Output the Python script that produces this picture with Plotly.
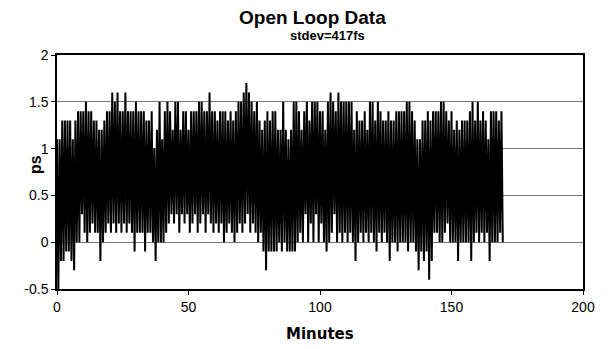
import plotly.graph_objects as go

# Upper and lower envelope of the trace, one value per minute (0..169), in ps
upper = [1.1, 1.1, 1.3, 1.3, 1.3, 1.3, 1.1, 1.3, 1.4, 1.4,
         1.4, 1.5, 1.4, 1.4, 1.3, 1.3, 1.2, 1.2, 1.3, 1.4,
         1.4, 1.6, 1.5, 1.6, 1.4, 1.4, 1.6, 1.4, 1.4, 1.4,
         1.5, 1.4, 1.4, 1.4, 1.3, 1.3, 1.4, 1.0, 1.2, 1.5,
         1.1, 1.4, 1.5, 1.4, 1.2, 1.5, 1.5, 1.2, 1.4, 1.4,
         1.2, 1.4, 1.4, 1.4, 1.5, 1.5, 1.4, 1.4, 1.6, 1.4,
         1.4, 1.3, 1.4, 1.4, 1.4, 1.3, 1.4, 1.3, 1.4, 1.5,
         1.5, 1.6, 1.7, 1.6, 1.5, 1.4, 1.5, 1.3, 1.2, 1.3,
         1.4, 1.3, 1.4, 1.4, 1.2, 1.2, 1.5, 1.2, 1.1, 1.2,
         1.5, 1.5, 1.4, 1.2, 1.4, 1.5, 1.3, 1.5, 1.5, 1.5,
         1.4, 1.4, 1.2, 1.5, 1.6, 1.5, 1.4, 1.6, 1.5, 1.5,
         1.5, 1.5, 1.5, 1.2, 1.4, 1.3, 1.3, 1.4, 1.2, 1.5,
         1.5, 1.3, 1.5, 1.4, 1.3, 1.3, 1.4, 1.3, 1.3, 1.4,
         1.4, 1.4, 1.4, 1.5, 1.5, 1.4, 1.3, 1.1, 1.1, 1.3,
         1.3, 1.4, 1.3, 1.4, 1.4, 1.4, 1.5, 1.5, 1.4, 1.3,
         1.4, 1.2, 1.3, 1.2, 1.3, 1.3, 1.3, 1.4, 1.5, 1.3,
         1.5, 1.3, 1.4, 1.3, 1.1, 1.4, 1.4, 1.4, 1.3, 1.4]

lower = [-0.5, -0.2, -0.2, -0.1, -0.1, -0.2, -0.3, 0.0, 0.0, 0.3,
         0.1, 0.0, 0.1, 0.2, 0.1, 0.1, -0.2, 0.0, 0.1, 0.2,
         0.1, 0.2, 0.1, 0.2, 0.1, 0.2, 0.1, 0.2, 0.1, -0.1,
         0.1, 0.1, 0.1, -0.1, 0.1, 0.1, 0.0, -0.2, 0.0, 0.0,
         0.0, 0.1, 0.2, 0.3, 0.2, 0.3, 0.1, 0.3, 0.2, 0.3,
         0.1, 0.2, 0.3, 0.1, 0.2, 0.3, 0.1, 0.3, 0.2, 0.1,
         0.2, 0.1, 0.2, 0.0, 0.1, 0.2, 0.1, 0.0, 0.1, 0.2,
         0.1, 0.2, 0.3, 0.1, 0.2, 0.1, 0.0, 0.1, -0.1, -0.3,
         -0.1, -0.1, -0.1, -0.1, 0.0, -0.1, 0.0, -0.1, -0.1, -0.1,
         -0.1, 0.0, 0.1, 0.0, 0.3, 0.0, 0.2, 0.0, 0.3, 0.0,
         0.2, 0.0, -0.1, 0.0, 0.1, 0.3, 0.0, 0.1, 0.0, 0.1,
         0.0, 0.1, 0.0, -0.2, 0.0, 0.1, 0.0, 0.1, 0.0, 0.1,
         0.0, -0.1, 0.1, 0.0, 0.1, 0.0, -0.2, 0.0, 0.0, -0.1,
         0.0, 0.0, 0.0, -0.1, 0.0, 0.0, -0.1, -0.3, -0.1, -0.2,
         -0.1, -0.4, -0.2, 0.1, 0.1, 0.0, 0.0, 0.1, 0.2, 0.0,
         0.0, 0.0, -0.2, 0.0, 0.0, 0.0, 0.0, -0.2, 0.0, 0.1,
         0.0, 0.1, 0.0, 0.1, -0.2, 0.0, 0.0, 0.0, 0.1, 0.0]

x_ticks = [0, 50, 100, 150, 200]
y_ticks = [-0.5, 0, 0.5, 1, 1.5, 2]
y_tick_labels = ["-0.5", "0", "0.5", "1", "1.5", "2"]

# interleave: upper sample at each whole minute, lower sample half a minute later
minutes = []
values = []
for i, (u, l) in enumerate(zip(upper, lower)):
    minutes += [i, i + 0.5]
    values += [u, l]

FONT = "Liberation Sans, Arial, sans-serif"
# the page body adds an 8px margin, so the figure is drawn 8px smaller and
# every reference pixel position p is placed at p - 8 inside the figure
OFF = 8
W, H = 610 - OFF, 349 - OFF
ML, MR, MT, MB = 57 - OFF, 27, 55 - OFF, 60
PW, PH = W - ML - MR, H - MT - MB


def px(xp):
    return (xp - OFF - ML) / PW


def py(yp):
    return (H - MB - (yp - OFF)) / PH


fig = go.Figure()
fig.add_trace(go.Scatter(x=minutes, y=values, mode="lines",
                         line=dict(color="black", width=2),
                         showlegend=False, hoverinfo="skip"))

fig.update_layout(
    width=W, height=H,
    margin=dict(l=ML, r=MR, t=MT, b=MB),
    paper_bgcolor="white", plot_bgcolor="white",
    font=dict(family=FONT, color="black", size=14),
    xaxis=dict(range=[0, 200], tickvals=x_ticks, ticks="outside", ticklen=4,
               tickcolor="black", showgrid=False, zeroline=False,
               showline=True, linecolor="black", linewidth=1.5, mirror=True,
               tickfont=dict(size=14), automargin=False),
    yaxis=dict(range=[-0.5, 2], tickvals=y_ticks, ticktext=y_tick_labels,
               ticks="outside", ticklen=4, tickcolor="black",
               showgrid=True, gridcolor="#777", gridwidth=1, zeroline=False,
               showline=True, linecolor="black", linewidth=1.5, mirror=True,
               tickfont=dict(size=14), automargin=False),
    annotations=[
        dict(text="<b>Open Loop Data</b>", x=px(312), y=py(18), xref="paper", yref="paper",
             xanchor="center", yanchor="middle", showarrow=False,
             font=dict(size=19, family=FONT)),
        dict(text="<b>stdev=417fs</b>", x=px(327), y=py(35), xref="paper", yref="paper",
             xanchor="center", yanchor="middle", showarrow=False,
             font=dict(size=13, family=FONT)),
        dict(text="<b>ps</b>", x=px(35), y=py(165), xref="paper", yref="paper",
             xanchor="center", yanchor="middle", showarrow=False, textangle=-90,
             font=dict(size=16, family=FONT)),
        dict(text="<b>Minutes</b>", x=px(320), y=py(334), xref="paper", yref="paper",
             xanchor="center", yanchor="middle", showarrow=False,
             font=dict(size=15, family="DejaVu Sans, sans-serif")),
    ],
)

fig.write_html("out.html")
